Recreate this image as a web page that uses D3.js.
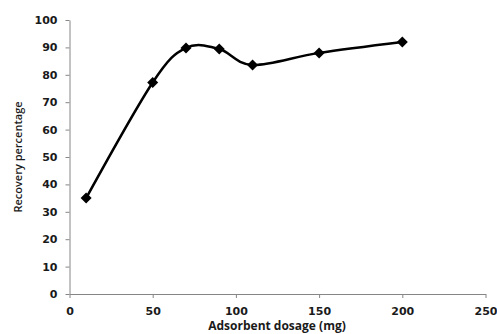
<!DOCTYPE html>
<html>
<head>
<meta charset="utf-8">
<script src="https://cdn.jsdelivr.net/npm/d3@7"></script>
<style>
  html, body { margin: 0; padding: 0; background: #fff; }
  svg { display: block; }
</style>
</head>
<body>
<svg id="chart" width="497" height="334"></svg>
<script>
// Adsorbent dosage (mg) and the recovery percentage measured at each dose
const dosage = [10, 50, 70, 90, 110, 150, 200];
const recovery = [35, 77.2, 89.8, 89.4, 83.6, 88, 92];
const xTicks = [0, 50, 100, 150, 200, 250];
const yTicks = [0, 10, 20, 30, 40, 50, 60, 70, 80, 90, 100];

const svg = d3.select("#chart");
const x = d3.scaleLinear().domain([0, 250]).range([69.5, 485.5]);
const y = d3.scaleLinear().domain([0, 100]).range([294, 20]);

const axisColor = "#868686";
const tickFont = "'DejaVu Sans', Verdana, sans-serif";

// X axis
const gx = svg.append("g").attr("transform", "translate(0,294)")
  .call(d3.axisBottom(x).tickValues(xTicks).tickSize(4).tickSizeOuter(0).tickPadding(9));
// Y axis
const gy = svg.append("g").attr("transform", "translate(69.5,0)")
  .call(d3.axisLeft(y).tickValues(yTicks).tickSize(4).tickSizeOuter(0).tickPadding(8));

[gx, gy].forEach(g => {
  g.select(".domain").attr("stroke", axisColor).attr("stroke-width", 1);
  g.selectAll(".tick line").attr("stroke", axisColor).attr("stroke-width", 1);
  g.selectAll(".tick text")
    .attr("fill", "#1a1a1a")
    .style("font-family", tickFont)
    .style("font-weight", "bold")
    .style("font-size", "11px");
});

// Axis titles
svg.append("text")
  .attr("x", 277).attr("y", 330)
  .attr("text-anchor", "middle")
  .style("font-family", "'Open Sans', sans-serif")
  .style("font-weight", "bold")
  .style("font-size", "12px")
  .attr("fill", "#1a1a1a")
  .text("Adsorbent dosage (mg)");

svg.append("text")
  .attr("transform", "translate(22,157) rotate(-90)")
  .attr("text-anchor", "middle")
  .style("font-family", "'Open Sans', sans-serif")
  .style("font-weight", "600")
  .style("font-size", "11px")
  .attr("fill", "#1a1a1a")
  .text("Recovery percentage");

// Smoothed series line
const pts = dosage.map((d, i) => [d, recovery[i]]);
const line = d3.line()
  .x(d => x(d[0]))
  .y(d => y(d[1]))
  .curve(d3.curveCardinal.tension(0));

svg.append("path")
  .datum(pts)
  .attr("d", line)
  .attr("fill", "none")
  .attr("stroke", "#000")
  .attr("stroke-width", 2.5)
  .attr("stroke-linejoin", "round");

// Diamond markers
svg.append("g").selectAll("path")
  .data(pts)
  .join("path")
  .attr("transform", d => `translate(${x(d[0])},${y(d[1])})`)
  .attr("d", "M0,-5.5L5.5,0L0,5.5L-5.5,0Z")
  .attr("fill", "#000");
</script>
</body>
</html>
